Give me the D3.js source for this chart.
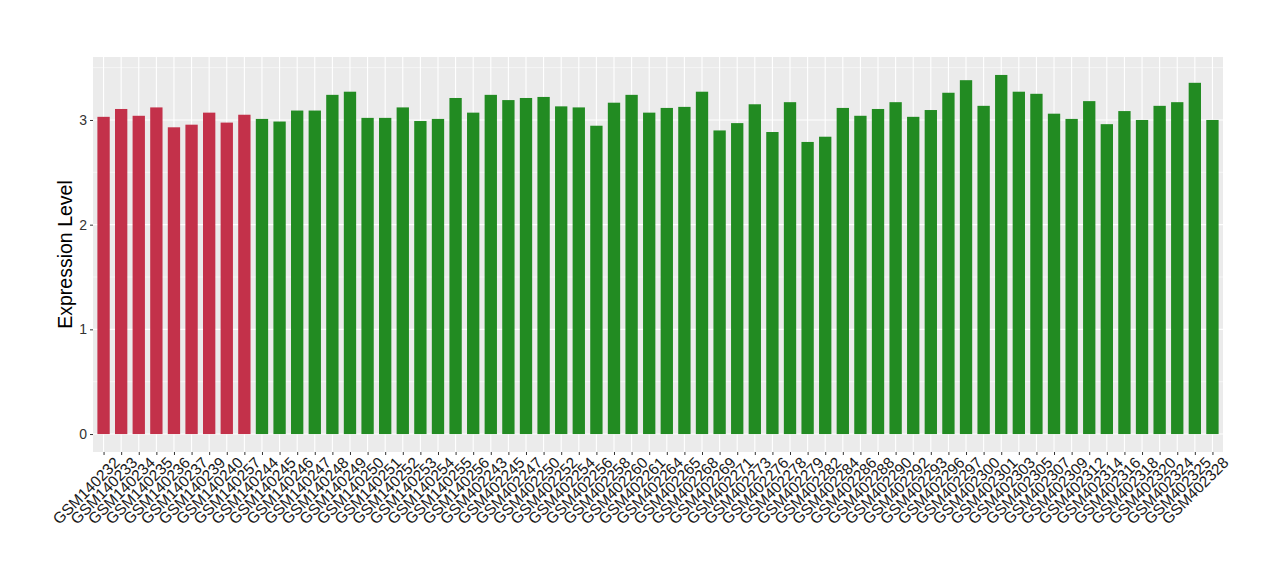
<!DOCTYPE html>
<html>
<head>
<meta charset="utf-8">
<script src="https://cdn.jsdelivr.net/npm/d3@7"></script>
<style>
  body { margin: 0; background: #fff; }
  text { font-family: "Liberation Sans", Arial, sans-serif; }
</style>
</head>
<body>
<div id="chart"></div>
<script>
// samples, in plot order
const samples = [
  "GSM140232", "GSM140233", "GSM140234", "GSM140235", "GSM140236", "GSM140237", "GSM140239", "GSM140240", "GSM140257",
  "GSM140244", "GSM140245", "GSM140246", "GSM140247", "GSM140248", "GSM140249", "GSM140250", "GSM140251", "GSM140252",
  "GSM140253", "GSM140254", "GSM140255", "GSM140256",
  "GSM402243", "GSM402245", "GSM402247", "GSM402250", "GSM402252", "GSM402254", "GSM402256", "GSM402258", "GSM402260",
  "GSM402261", "GSM402264", "GSM402265", "GSM402268", "GSM402269", "GSM402271", "GSM402273", "GSM402276", "GSM402278",
  "GSM402279", "GSM402282", "GSM402284", "GSM402286", "GSM402288", "GSM402290", "GSM402292", "GSM402293", "GSM402296",
  "GSM402297", "GSM402300", "GSM402301", "GSM402303", "GSM402305", "GSM402307", "GSM402309", "GSM402312", "GSM402314",
  "GSM402316", "GSM402318", "GSM402320", "GSM402324", "GSM402325", "GSM402328"
]
const expression = [
  3.03, 3.105, 3.04, 3.12, 2.93, 2.955, 3.07, 2.975, 3.05,
  3.01, 2.985, 3.09, 3.09, 3.24, 3.27, 3.02, 3.02, 3.12,
  2.99, 3.01, 3.21, 3.07,
  3.24, 3.19, 3.21, 3.22, 3.13, 3.12, 2.945, 3.165, 3.24,
  3.07, 3.115, 3.125, 3.27, 2.90, 2.97, 3.15, 2.885, 3.17,
  2.79, 2.84, 3.115, 3.04, 3.105, 3.17, 3.03, 3.095, 3.26,
  3.38, 3.135, 3.43, 3.27, 3.25, 3.06, 3.01, 3.18, 2.96,
  3.085, 3.00, 3.135, 3.17, 3.355, 3.00
]
// first 9 samples are group A (red), rest group B (green)
const groups = samples.map((s, i) => i < 9 ? "A" : "B")
const groupColors = { A: "#C3314A", B: "#228B22" }
const yTicks = [0, 1, 2, 3]

const WIDTH = 1280, HEIGHT = 580
const margin = { left: 93, right: 57, top: 57, bottom: 128 }
const pw = WIDTH - margin.left - margin.right
const ph = HEIGHT - margin.top - margin.bottom

let svg = d3.select("#chart").append("svg")
  .attr("width", WIDTH).attr("height", HEIGHT)

let g = svg.append("g")
  .attr("transform", "translate(" + margin.left + "," + margin.top + ")")

// ggplot style expansion
let ymax = d3.max(expression)
let ypad = ymax * 0.05
let y = d3.scaleLinear().domain([-ypad, ymax + ypad]).range([ph, 0])

let n = samples.length
let unit = pw / (n - 1 + 1.2)
let x = d3.scalePoint().domain(samples).range([0.6 * unit, pw - 0.6 * unit])

g.append("rect").attr("width", pw).attr("height", ph).attr("fill", "#EBEBEB")

// minor grid
let minor = [0.5, 1.5, 2.5, 3.5].filter(v => v < ymax + ypad)
g.selectAll(".minor").data(minor).enter().append("line")
  .attr("x1", 0).attr("x2", pw)
  .attr("y1", d => y(d)).attr("y2", d => y(d))
  .style("stroke", "#fff").style("stroke-width", 0.55)
// major grid
g.selectAll(".majorY").data(yTicks).enter().append("line")
  .attr("x1", 0).attr("x2", pw)
  .attr("y1", d => y(d)).attr("y2", d => y(d))
  .style("stroke", "#fff").style("stroke-width", 1.1)
g.selectAll(".majorX").data(samples).enter().append("line")
  .attr("x1", d => x(d)).attr("x2", d => x(d))
  .attr("y1", 0).attr("y2", ph)
  .style("stroke", "#fff").style("stroke-width", 1.1)

let bw = unit * 0.7
g.selectAll(".bar").data(samples).enter().append("rect")
  .attr("class", "bar")
  .attr("x", d => x(d) - bw / 2)
  .attr("width", bw)
  .attr("y", (d, i) => y(expression[i]))
  .attr("height", (d, i) => y(0) - y(expression[i]))
  .attr("fill", (d, i) => groupColors[groups[i]])

// y axis
let yAxis = g.append("g").call(d3.axisLeft(y).tickValues(yTicks).tickSize(3).tickPadding(3).tickFormat(d3.format("d")))
yAxis.select(".domain").remove()
yAxis.selectAll("line").style("stroke", "#333")
yAxis.selectAll("text").style("font-size", "14px").style("fill", "#333")

// x axis
let xAxis = g.append("g").attr("transform", "translate(0," + ph + ")")
  .call(d3.axisBottom(x).tickSize(3).tickPadding(2))
xAxis.select(".domain").remove()
xAxis.selectAll("line").style("stroke", "#333")
xAxis.selectAll("text")
  .style("font-size", "15.5px").style("fill", "#1a1a1a")
  .attr("text-anchor", "end")
  .attr("dy", "0.75em")
  .attr("transform", "translate(5,0) rotate(-45)")

svg.append("text")
  .attr("transform", "translate(72," + (margin.top + ph / 2) + ") rotate(-90)")
  .attr("text-anchor", "middle")
  .style("font-size", "19.5px")
  .text("Expression Level")
</script>
</body>
</html>
